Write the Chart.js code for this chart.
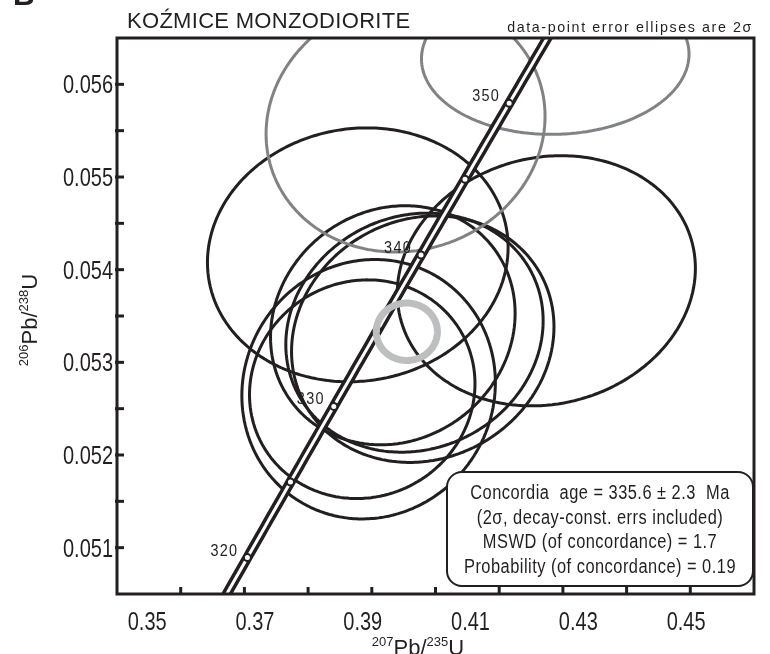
<!DOCTYPE html>
<html>
<head>
<meta charset="utf-8">
<script src="https://cdn.jsdelivr.net/npm/chart.js@4.4.1/dist/chart.umd.min.js"></script>
<style>
    html, body { margin: 0; padding: 0; background: #ffffff; }
</style>
</head>
<body>
<canvas id="graph_concordia" width="770" height="654"></canvas>
<script>

// axis ranges (207Pb/235U on x, 206Pb/238U on y)
var X_MIN                                                   = 0.35;
var X_MAX                                                   = 0.45;
var Y_MIN                                                   = 0.0505;
var Y_MAX                                                   = 0.0565;

var X_TICK_MARKS                                            = [0.36, 0.37, 0.38, 0.39, 0.40, 0.41, 0.42, 0.43, 0.44];
var X_TICK_LABELS                                           = [0.35, 0.37, 0.39, 0.41, 0.43, 0.45];
var X_LABEL_AXIS_MIN                                        = 0.3444;   // labels sit on their own spacing in the figure
var X_LABEL_AXIS_MAX                                        = 0.4626;
var Y_TICK_MARKS                                            = [0.051, 0.0515, 0.052, 0.0525, 0.053, 0.0535, 0.054, 0.0545, 0.055, 0.0555, 0.056];
var Y_TICK_LABELS                                           = [0.051, 0.052, 0.053, 0.054, 0.055, 0.056];

// concordia (Ma)
var LAMBDA_238                                              = 1.55125e-10;
var LAMBDA_235                                              = 9.8485e-10;
var CURVE_AGE_FROM                                          = 310;
var CURVE_AGE_TO                                            = 362;
var AGE_MARKS                                               = [320, 325, 330, 335, 340, 345, 350];
var AGE_LABELS                                              = [320, 330, 340, 350];

// data-point error ellipses (2 sigma)
var ELL_X                                                   = [0.3953, 0.4188, 0.3878, 0.4174, 0.3933, 0.3967, 0.3980, 0.3895, 0.3885];
var ELL_Y                                                   = [0.05556, 0.05630, 0.05416, 0.05388, 0.05340, 0.05332, 0.05325, 0.05271, 0.05271];
var ELL_SX                                                  = [0.0219, 0.0210, 0.0236, 0.0234, 0.0192, 0.0202, 0.0206, 0.0199, 0.0177];
var ELL_SY                                                  = [0.00137, 0.00084, 0.00137, 0.00135, 0.00129, 0.00129, 0.00133, 0.00140, 0.00118];
var ELL_RHO                                                 = [0.07, 0.03, 0.06, 0.10, 0.10, 0.10, 0.10, 0.05, 0.05];
var ELL_GREY                                                = [true, true, false, false, false, false, false, false, false];

// concordia age ellipse
var AGE_ELL_X                                               = 0.3955;
var AGE_ELL_Y                                               = 0.05333;
var AGE_ELL_SX                                              = 0.0048;
var AGE_ELL_SY                                              = 0.00031;

var TITLE                                                   = 'KOŹMICE MONZODIORITE';
var NOTE                                                    = 'data-point error ellipses are 2σ';
var BOX_LINES                                               = ['Concordia  age = 335.6 ± 2.3  Ma', '(2σ, decay-const. errs included)', 'MSWD (of concordance) = 1.7', 'Probability (of concordance) = 0.19'];

var INK                                                     = '#231f20';
var GREY                                                    = '#808285';
var LIGHT_GREY                                              = '#bcbec0';





function concordia_point(age) {

    return { x: Math.exp(LAMBDA_235 * age * 1e6) - 1, y: Math.exp(LAMBDA_238 * age * 1e6) - 1 };
}



function concordia_curve() {

    var pts = [];
    for (var a = CURVE_AGE_FROM; a <= CURVE_AGE_TO; a += 0.5) {
        pts.push(concordia_point(a));
    }
    return pts;
}



function ellipse_points(cx, cy, sx, sy, rho) {

    var pts = [];
    var n = 160;
    for (var i = 0; i <= n; i++) {
        var t = i / n * 2 * Math.PI;
        pts.push({
            x: cx + sx * Math.cos(t),
            y: cy + sy * (rho * Math.cos(t) + Math.sqrt(1 - rho * rho) * Math.sin(t))
        });
    }
    return pts;
}



function graph_datasets() {

    var sets = [];

    // a tiny tension keeps Chart.js off its x-monotonic fast path, which breaks closed curves
    sets.push({
        data: ellipse_points(AGE_ELL_X, AGE_ELL_Y, AGE_ELL_SX, AGE_ELL_SY, 0),
        showLine: true, tension: 0.01, borderColor: LIGHT_GREY, borderWidth: 7, pointRadius: 0, order: 0
    });

    sets.push({
        data: AGE_MARKS.map(concordia_point),
        showLine: false, pointRadius: 3.5, pointBackgroundColor: '#ffffff',
        pointBorderColor: INK, pointBorderWidth: 2, order: 1
    });

    sets.push({
        data: concordia_curve(),
        showLine: true, borderColor: '#ffffff', borderWidth: 3, pointRadius: 0, order: 2
    });

    sets.push({
        data: concordia_curve(),
        showLine: true, borderColor: INK, borderWidth: 10, pointRadius: 0, order: 3
    });

    for (var i = 0; i < ELL_X.length; i++) {
        sets.push({
            data: ellipse_points(ELL_X[i], ELL_Y[i], ELL_SX[i], ELL_SY[i], ELL_RHO[i]),
            showLine: true, tension: 0.01, borderColor: ELL_GREY[i] ? GREY : INK, borderWidth: 3, pointRadius: 0, order: 4
        });
    }

    return sets;
}





/**-- text helpers --**/

function draw_text(ctx, text, x, y, size, align, squeeze, spacing, weight) {

    ctx.save();
    ctx.font = (weight || 'normal') + ' ' + size + 'px "Liberation Sans", Arial, sans-serif';
    ctx.letterSpacing = (spacing || 0) + 'px';
    ctx.textAlign = 'left';
    ctx.textBaseline = 'alphabetic';
    ctx.fillStyle = INK;
    var w = ctx.measureText(text).width * squeeze;
    var x0 = align === 'center' ? x - w / 2 : (align === 'right' ? x - w : x);
    ctx.translate(x0, y);
    ctx.scale(squeeze, 1);
    ctx.fillText(text, 0, 0);
    ctx.restore();
}



function draw_isotope_title(ctx, parts, cx, baseline) {

    var big = 22, small = 13, lift = 9;
    ctx.save();
    ctx.fillStyle = INK;
    ctx.textBaseline = 'alphabetic';
    ctx.textAlign = 'left';

    var total = 0;
    parts.forEach(function(p) {
        ctx.font = (p.sup ? small : big) + 'px "Liberation Sans", Arial, sans-serif';
        p.w = ctx.measureText(p.t).width;
        total += p.w;
    });

    var x = cx - total / 2;
    parts.forEach(function(p) {
        ctx.font = (p.sup ? small : big) + 'px "Liberation Sans", Arial, sans-serif';
        ctx.fillText(p.t, x, baseline - (p.sup ? lift : 0));
        x += p.w;
    });
    ctx.restore();
}





var concordia_decor = {

    id: 'concordia_decor',

    afterDatasetsDraw: function(chart) {

        var ctx = chart.ctx;
        var area = chart.chartArea;
        var xs = chart.scales.x;
        var ys = chart.scales.y;

        // age labels along concordia
        AGE_LABELS.forEach(function(age) {
            var p = concordia_point(age);
            draw_text(ctx, String(age), xs.getPixelForValue(p.x) - 9, ys.getPixelForValue(p.y) - 2, 17, 'right', 0.85, 1.5);
        });

        // result box
        var bx = 447, by = 472, bw = 306, bh = 114, r = 15;
        ctx.save();
        ctx.beginPath();
        ctx.roundRect(bx, by, bw, bh, r);
        ctx.fillStyle = '#ffffff';
        ctx.fill();
        ctx.lineWidth = 2;
        ctx.strokeStyle = INK;
        ctx.stroke();
        ctx.restore();

        var baselines = [499, 524, 548, 573];
        BOX_LINES.forEach(function(line, i) {
            draw_text(ctx, line, bx + bw / 2, baselines[i], 20, 'center', 0.82, 0.6);
        });

        // frame
        ctx.save();
        ctx.strokeStyle = INK;
        ctx.lineWidth = 3;
        ctx.strokeRect(area.left, area.top, area.right - area.left, area.bottom - area.top);

        // inward tick marks
        Y_TICK_MARKS.forEach(function(v) {
            var py = ys.getPixelForValue(v);
            ctx.beginPath();
            ctx.moveTo(area.left - 2, py);
            ctx.lineTo(area.left + 7, py);
            ctx.stroke();
        });
        X_TICK_MARKS.forEach(function(v) {
            var px = xs.getPixelForValue(v);
            ctx.beginPath();
            ctx.moveTo(px, area.bottom);
            ctx.lineTo(px, area.bottom - 7);
            ctx.stroke();
        });
        ctx.restore();
    },

    afterDraw: function(chart) {

        var ctx = chart.ctx;
        var area = chart.chartArea;
        var ys = chart.scales.y;
        var xl = chart.scales.xl;

        // tick labels (condensed face, as in the figure)
        Y_TICK_LABELS.forEach(function(v) {
            draw_text(ctx, v.toFixed(3), area.left - 4, ys.getPixelForValue(v) + 9, 25, 'right', 0.8, 0);
        });
        X_TICK_LABELS.forEach(function(v) {
            draw_text(ctx, v.toFixed(2), xl.getPixelForValue(v), 630, 25, 'center', 0.8, 0);
        });

        draw_text(ctx, 'B', 13, 4.5, 30, 'left', 1, 0, 'bold');
        draw_text(ctx, TITLE, 127, 28, 22, 'left', 1, 0.3);
        draw_text(ctx, NOTE, 753, 32, 15, 'right', 0.95, 1.7);

        draw_isotope_title(ctx, [{ t: '207', sup: true }, { t: 'Pb/' }, { t: '235', sup: true }, { t: 'U' }], 418, 655);

        ctx.save();
        ctx.translate(37, 320);
        ctx.rotate(-Math.PI / 2);
        draw_isotope_title(ctx, [{ t: '206', sup: true }, { t: 'Pb/' }, { t: '238', sup: true }, { t: 'U' }], 0, 0);
        ctx.restore();
    }
};





function graph_options() {

    return {
        responsive: false,
        animation: false,
        layout: {
            padding: { top: 38, right: 16, bottom: 0, left: 0 }
        },
        plugins: {
            legend: { display: false },
            tooltip: { enabled: false }
        },
        scales: {
            x: {
                type: 'linear',
                position: 'bottom',
                weight: 0,
                min: X_MIN,
                max: X_MAX,
                ticks: { display: false },
                grid: { display: false, drawTicks: false },
                border: { display: false },
                afterFit: function(scale) { scale.height = 0; }
            },
            xl: {
                type: 'linear',
                position: 'bottom',
                weight: 1,
                min: X_LABEL_AXIS_MIN,
                max: X_LABEL_AXIS_MAX,
                afterBuildTicks: function(scale) {
                    scale.ticks = X_TICK_LABELS.map(function(v) { return { value: v }; });
                },
                ticks: { display: false },
                grid: { display: false, drawTicks: false },
                border: { display: false },
                afterFit: function(scale) { scale.height = 60; }
            },
            y: {
                type: 'linear',
                min: Y_MIN,
                max: Y_MAX,
                ticks: { display: false },
                grid: { display: false, drawTicks: false },
                border: { display: false },
                afterFit: function(scale) { scale.width = 117; }
            }
        }
    };
}



var graph_concordia_chart = new Chart(document.getElementById('graph_concordia'), {
    type: 'scatter',
    data: { datasets: graph_datasets() },
    options: graph_options(),
    plugins: [concordia_decor]
});

</script>
</body>
</html>
